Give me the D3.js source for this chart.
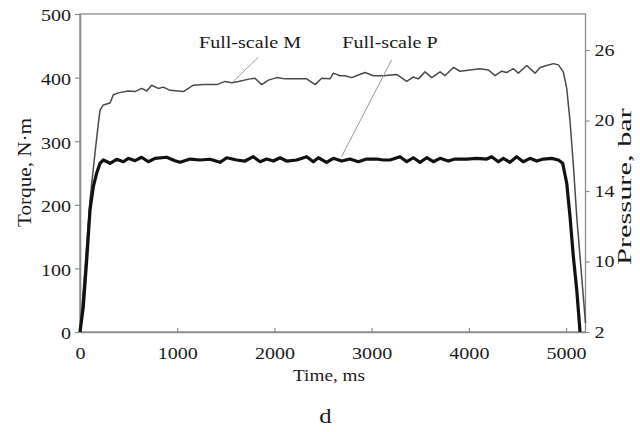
<!DOCTYPE html>
<html>
<head>
  <script type="text/javascript" src="https://d3js.org/d3.v7.min.js"></script>
  <style type="text/css">
  html, body {
    margin: 0px;
    background: #ffffff;
  }
  svg text {
    font-family: "Liberation Serif", "Times New Roman", serif;
    fill: #1a1a1a;
  }
  </style>
</head>
<body>
<div id="chart"></div>
<script>
"use strict";

// Full-scale M (torque, N·m)
const timeM = [0, 51, 103, 154, 189, 206, 240, 309, 343, 394, 497, 566, 634, 686, 737, 806,
  857, 926, 1063, 1166, 1269, 1406, 1492, 1561, 1629, 1749, 1800, 1869, 1938, 2023, 2109, 2195,
  2332, 2418, 2486, 2572, 2606, 2675, 2726, 2795, 2863, 2932, 3018, 3086, 3121, 3258, 3361, 3429,
  3481, 3549, 3618, 3704, 3755, 3841, 3909, 4012, 4115, 4201, 4270, 4338, 4389, 4458, 4509, 4595,
  4681, 4733, 4801, 4870, 4921, 4972, 5007, 5041, 5075, 5110, 5144, 5178, 5200];
const torqueM = [0, 100, 208, 281, 328, 349, 357, 360, 373, 376, 379, 378, 383, 379, 388, 383,
  385, 380, 378, 388, 389, 389, 394, 392, 394, 398, 399, 389, 396, 400, 398, 398,
  398, 389, 399, 398, 407, 403, 403, 400, 404, 408, 403, 403, 403, 405, 394, 401,
  398, 409, 400, 409, 403, 416, 410, 412, 414, 412, 403, 410, 408, 414, 407, 419,
  407, 416, 419, 422, 420, 409, 383, 331, 263, 181, 118, 55, 14];

// Full-scale P (pressure, bar)
const timeP = [0, 34, 69, 103, 137, 171, 206, 240, 309, 377, 446, 497, 566, 634, 703, 772,
  892, 977, 1029, 1132, 1234, 1337, 1440, 1509, 1612, 1697, 1783, 1852, 1920, 1989, 2057, 2126,
  2229, 2332, 2400, 2452, 2537, 2606, 2692, 2777, 2863, 2949, 3052, 3120, 3189, 3292, 3361, 3429,
  3498, 3566, 3635, 3703, 3789, 3858, 3978, 4081, 4184, 4235, 4303, 4355, 4423, 4492, 4560, 4629,
  4698, 4766, 4852, 4921, 4965, 5007, 5041, 5075, 5110, 5144];
const pressureP = [2, 4.87, 10.09, 12.92, 14.37, 15.51, 16.36, 16.64, 16.36, 16.70, 16.49, 16.78, 16.58, 16.87, 16.49, 16.78,
  16.87, 16.58, 16.44, 16.72, 16.64, 16.70, 16.44, 16.83, 16.64, 16.55, 16.92, 16.49, 16.72, 16.55, 16.83, 16.55,
  16.64, 16.92, 16.49, 16.83, 16.44, 16.78, 16.55, 16.72, 16.49, 16.72, 16.72, 16.64, 16.64, 16.92, 16.49, 16.83,
  16.44, 16.83, 16.49, 16.78, 16.55, 16.72, 16.72, 16.78, 16.72, 16.92, 16.49, 16.78, 16.44, 16.92, 16.49, 16.78,
  16.55, 16.72, 16.78, 16.64, 16.36, 14.66, 12.54, 10.27, 6.77, 2];

// Tick labels
const timeTicks = [0, 1000, 2000, 3000, 4000, 5000];
const torqueTicks = [0, 100, 200, 300, 400, 500];
const pressureTicks = [2, 10, 14, 20, 26];

// Annotation labels (time, torque units) and leader lines
const labelNames = ["Full-scale M", "Full-scale P"];
const labelTime = [1749, 3189];
const labelTorque = [446, 446];
const leaderFrom = [[1834, 432], [3206, 428]];
const leaderTo = [[1577, 394], [2692, 276]];

const WIDTH = 640, HEIGHT = 432;
const margin = ({top: 14, right: 54.5, bottom: 100, left: 80});
const STRETCH = 1.18; // the source picture is wider than the type

const SVG = d3.select("#chart").append("svg")
  .attr("width", WIDTH)
  .attr("height", HEIGHT);

const x = d3.scaleLinear().domain([0, 5200]).range([margin.left, WIDTH - margin.right]);
const yL = d3.scaleLinear().domain([0, 500]).range([HEIGHT - margin.bottom, margin.top]);
// right axis ticks are evenly spaced although the labels are not
const yR = d3.scaleLinear()
  .domain(pressureTicks)
  .range(pressureTicks.map((d, i) => yL(0) - i * 70.5));

function stretch(sel, k) {
  sel.each(function() {
    const w = this.getComputedTextLength();
    this.setAttribute("textLength", w * k);
    this.setAttribute("lengthAdjust", "spacingAndGlyphs");
  });
}

// plot frame
SVG.append("rect")
  .attr("x", x(0)).attr("y", yL(500))
  .attr("width", x(5200) - x(0)).attr("height", yL(0) - yL(500))
  .attr("fill", "none").attr("stroke", "#8c8c8c").attr("stroke-width", 1.3);

const axisStyle = g => {
  g.select(".domain").attr("stroke", "#8c8c8c").attr("stroke-width", 1.6);
  g.selectAll(".tick line").attr("stroke", "#8c8c8c").attr("stroke-width", 1.2);
  g.selectAll(".tick text").style("font-size", "17px").attr("fill", "#1a1a1a");
};

const gx = SVG.append("g")
  .attr("transform", `translate(0,${yL(0)})`)
  .call(d3.axisBottom(x).tickValues(timeTicks).tickFormat(d3.format("d"))
    .tickSizeInner(-4).tickSizeOuter(0).tickPadding(15))
  .call(axisStyle);
gx.selectAll(".tick text").attr("y", 15);

const gl = SVG.append("g")
  .attr("transform", `translate(${x(0)},0)`)
  .call(d3.axisLeft(yL).tickValues(torqueTicks).tickFormat(d3.format("d"))
    .tickSize(5).tickSizeOuter(0).tickPadding(4))
  .call(axisStyle);
gl.selectAll(".tick text").attr("dy", "0.4em");

const gr = SVG.append("g")
  .attr("transform", `translate(${x(5200)},0)`)
  .call(d3.axisRight(yR).tickValues(pressureTicks).tickFormat(d3.format("d"))
    .tickSize(4).tickSizeOuter(0).tickPadding(5))
  .call(axisStyle);
gr.select(".domain").remove();

stretch(SVG.selectAll(".tick text"), STRETCH);

// curves
const lineM = d3.line().x((d, i) => x(timeM[i])).y(d => yL(d));
const lineP = d3.line().x((d, i) => x(timeP[i])).y(d => yR(d));

SVG.append("path")
  .datum(torqueM)
  .attr("d", lineM)
  .attr("fill", "none")
  .attr("stroke", "#4a4a4a")
  .attr("stroke-width", 1.5)
  .attr("stroke-linejoin", "round");

SVG.append("path")
  .datum(pressureP)
  .attr("d", lineP)
  .attr("fill", "none")
  .attr("stroke", "#111")
  .attr("stroke-width", 3.2)
  .attr("stroke-linejoin", "round");

// annotations
SVG.append("g").selectAll("line")
  .data(labelNames)
  .join("line")
  .attr("x1", (d, i) => x(leaderFrom[i][0])).attr("y1", (d, i) => yL(leaderFrom[i][1]))
  .attr("x2", (d, i) => x(leaderTo[i][0])).attr("y2", (d, i) => yL(leaderTo[i][1]))
  .attr("stroke", "#9a9a9a").attr("stroke-width", 1);

const labels = SVG.append("g").selectAll("text")
  .data(labelNames)
  .join("text")
  .attr("x", (d, i) => x(labelTime[i]))
  .attr("y", (d, i) => yL(labelTorque[i]))
  .attr("text-anchor", "middle")
  .style("font-size", "17px")
  .text(d => d);
stretch(labels, STRETCH);

// axis titles
const tX = SVG.append("text")
  .attr("x", 329).attr("y", 381)
  .attr("text-anchor", "middle")
  .style("font-size", "16px")
  .text("Time, ms");
stretch(tX, 1.2);

SVG.append("text")
  .attr("transform", "translate(31,172.5) rotate(-90)")
  .attr("text-anchor", "middle")
  .style("font-size", "18px")
  .attr("textLength", 109).attr("lengthAdjust", "spacingAndGlyphs")
  .text("Torque, N\u00b7m");

SVG.append("text")
  .attr("transform", "translate(631,186.5) rotate(-90)")
  .attr("text-anchor", "middle")
  .style("font-size", "18px")
  .attr("textLength", 157).attr("lengthAdjust", "spacingAndGlyphs")
  .text("Pressure, bar");

const tD = SVG.append("text")
  .attr("x", 325.5).attr("y", 423)
  .attr("text-anchor", "middle")
  .style("font-size", "22px")
  .text("d");
stretch(tD, 1.12);
</script>
</body>
</html>
